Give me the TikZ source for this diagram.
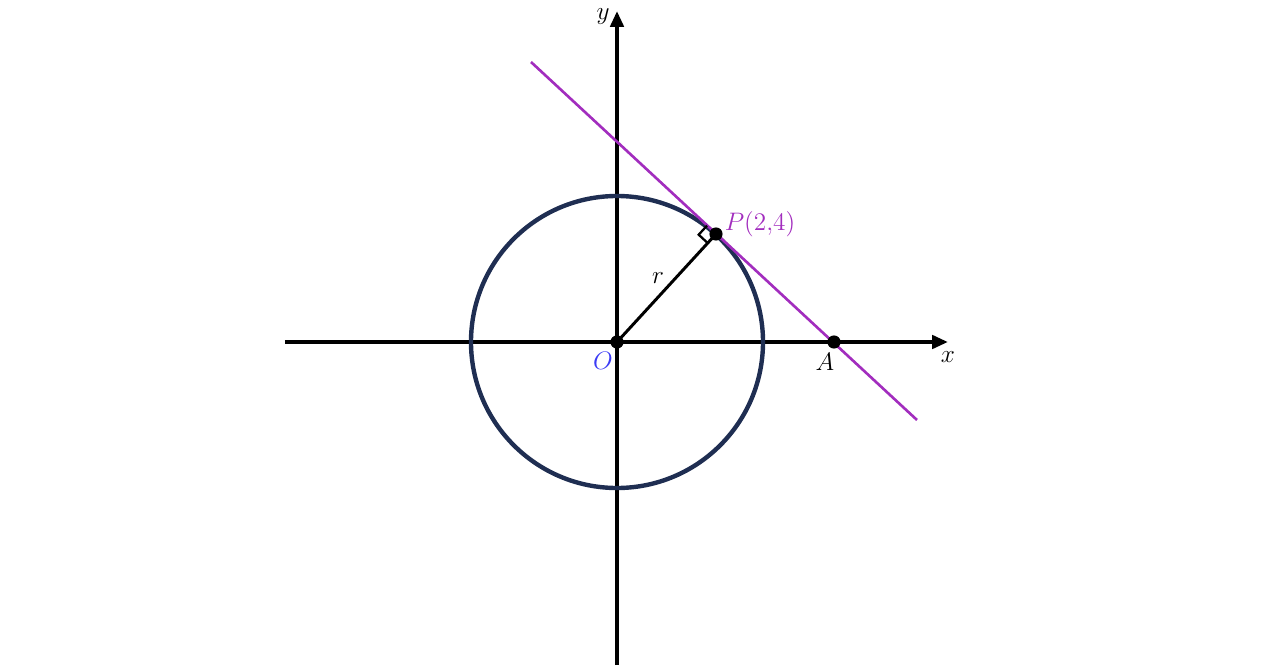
\documentclass[tikz,border=0pt]{standalone}
\usepackage{amsmath}
\usepackage{tikz}
\usetikzlibrary{arrows.meta,calc}
\definecolor{circnavy}{HTML}{1F2E52}
\definecolor{tanpurple}{HTML}{A22DBE}
\definecolor{originblue}{HTML}{3B3BF5}
\tikzset{
    axisline/.style = {
        line width=2.2pt,
        draw=black,
        -{Triangle[length=9pt,width=7.5pt]}
    },
    dotnode/.style = {
        circle,
        fill=black,
        inner sep=0pt,
        minimum size=7.5pt
    },
    lbl/.style = {
        inner sep=0pt,
        font=\fontsize{13.5}{15}\selectfont
    }
}
\begin{document}
\begin{tikzpicture}[x=0.02cm,y=0.02cm]
    \useasboundingbox (-617,-328) rectangle (663,342);
    % axes
    \coordinate (xl) at (-332,0);
    \coordinate (xr) at (331,0);
    \coordinate (yb) at (0,-323);
    \coordinate (yt) at (0,331);
    \draw [axisline] (xl) -- (xr);
    \draw [axisline] (yb) -- (yt);
    % circle and tangent
    \draw [circnavy, line width=2.5pt] (0,0) circle (146);
    \coordinate (T1) at (-86,280);
    \coordinate (T2) at (300,-78);
    \draw [tanpurple, line width=1.5pt] (T1) -- (T2);
    % points
    \node [dotnode] (O) at (0,0) {};
    \node [dotnode] (P) at (99,108) {};
    \node [dotnode] (A) at (217,0) {};
    \draw [line width=1.7pt] (O.center) -- (P.center);
    % right angle mark
    \coordinate (m1) at ($(P.center)!7pt!(O.center)$);
    \coordinate (m2) at ($(P.center)!7pt!(T1)$);
    \draw [line width=1.3pt] (m1) -- ($(m1)+(m2)-(P.center)$) -- (m2);
    % labels
    \node [lbl, text=tanpurple] (Plbl) at (143,118) {$P(2{,}4)$};
    \node [lbl, text=originblue] (Olbl) at (-14,-19) {$O$};
    \node [lbl] (Albl) at (208,-20) {$A$};
    \node [lbl] (rlbl) at (41,64) {$r$};
    \node [lbl] (xlbl) at (331,-15) {$x$};
    \node [lbl] (ylbl) at (-14,325) {$y$};
\end{tikzpicture}
\end{document}
